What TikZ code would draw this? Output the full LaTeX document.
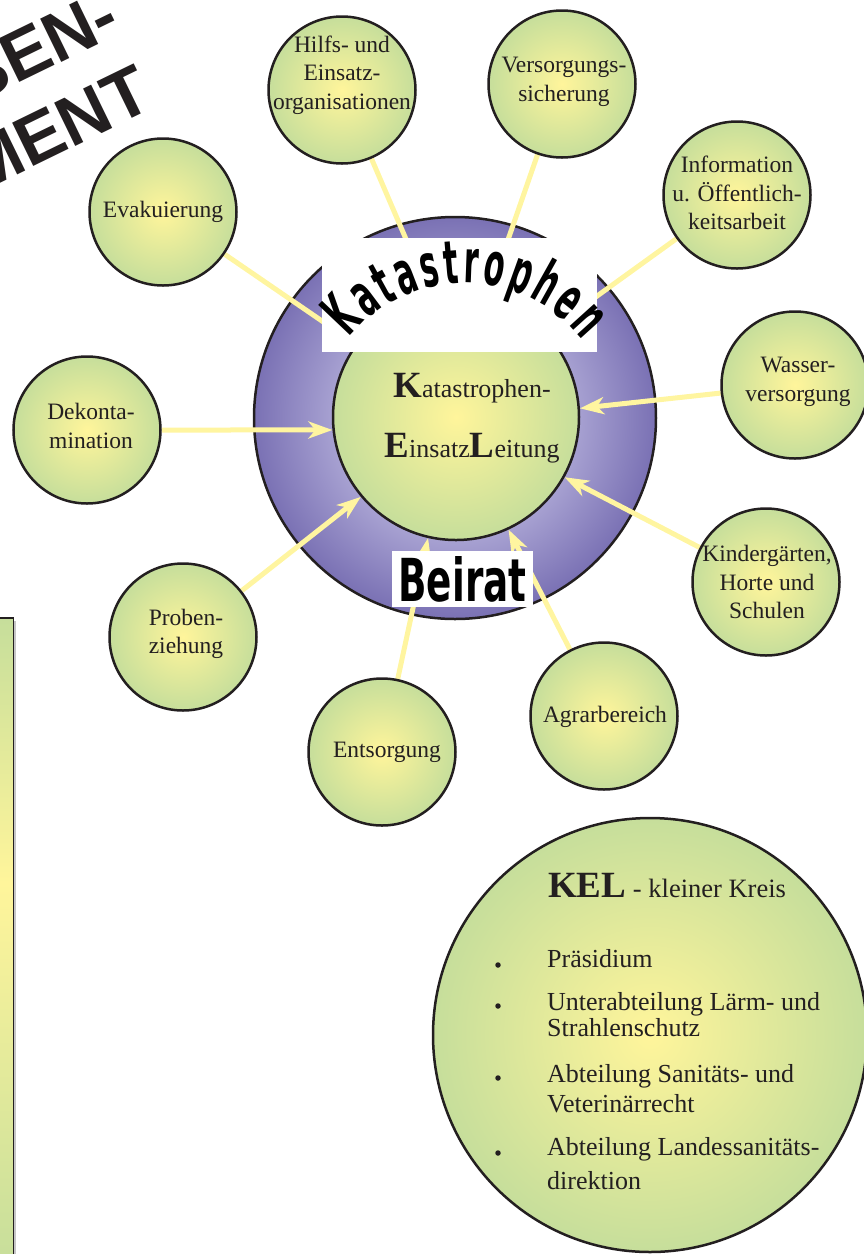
\documentclass[tikz,border=0pt]{standalone}
\usepackage{fontspec}
\usepackage{graphicx}
\setmainfont{Liberation Serif}
\newfontfamily\titlefont{Liberation Sans}
\newfontfamily\kfont{DejaVu Sans}[FakeStretch=0.5]
\newfontfamily\bfont{DejaVu Sans}
\usetikzlibrary{arrows.meta,decorations.text}
\definecolor{cyel}{HTML}{FFF59B}
\definecolor{cgrn}{HTML}{C6DE9B}
\definecolor{rlight}{HTML}{A8A2D2}
\definecolor{rdark}{HTML}{7A71B4}
\definecolor{lyel}{HTML}{FFF5A0}
\definecolor{ink}{HTML}{231F20}
\pgfdeclareradialshading{ringshade}{\pgfpointorigin}{color(0bp)=(rlight); color(15bp)=(rlight); color(25bp)=(rdark); color(50bp)=(rdark)}
\pgfdeclarelayer{bg}\pgfdeclarelayer{mid}\pgfdeclarelayer{fg}
\pgfsetlayers{bg,mid,main,fg}
\newcommand\KELbig[1]{{\fontsize{37}{37}\selectfont\bfseries #1}}
\newcommand\KELsmall[1]{{\fontsize{26}{26}\selectfont #1}}
\tikzset{
  sat/.style={circle, draw=ink, line width=2.5pt, inner color=cyel, outer color=cgrn, minimum size=147pt, inner sep=0pt},
  sattext/.style={align=center, inner sep=0pt, text=ink, font=\fontsize{23.5}{28.5}\selectfont},
  conn/.style={draw=lyel, line width=5pt},
  arr/.style={conn, -{Stealth[length=24pt,width=17pt,inset=7pt]}},
  banner/.style={fill=white, inner sep=0pt},
  keltext/.style={anchor=base west, inner sep=0pt, text=ink, font=\fontsize{26}{30}\selectfont},
  bullet/.style={circle, fill=ink, inner sep=0pt, minimum size=5.5pt},
  titletext/.style={rotate=26, anchor=base east, inner sep=0pt, text=ink, font=\titlefont\bfseries\fontsize{70}{70}\selectfont}
}
\begin{document}
\begin{tikzpicture}[x=1pt,y=-1pt]
\useasboundingbox (0,0) rectangle (864,1254);
\clip (0,0) rectangle (864,1254);

\begin{pgfonlayer}{bg}
\node[circle, draw=ink, line width=2.5pt, minimum size=402pt, shade, shading=ringshade] (ring) at (455,418) {};
\node[circle, draw=ink, line width=2.5pt, inner color=cyel, outer color=cgrn, minimum size=246pt] (kelc) at (456,417) {};
\end{pgfonlayer}

% satellites
\node[sat] (hilfs) at (342,90) {};
\node[sattext] (hilfsT) at (342,75) {Hilfs- und\\Einsatz-\\organisationen};
\node[sat] (versorg) at (562,84) {};
\node[sattext] (versorgT) at (564,82) {Versorgungs-\\sicherung};
\node[sat] (info) at (737,195) {};
\node[sattext] (infoT) at (737,193) {Information\\u. Öffentlich-\\keitsarbeit};
\node[sat] (evak) at (163,212) {};
\node[sattext] (evakT) at (163,212) {Evakuierung};
\node[sat] (wasser) at (795,385) {};
\node[sattext] (wasserT) at (798,382) {Wasser-\\versorgung};
\node[sat] (dekon) at (87,430) {};
\node[sattext] (dekonT) at (91,426) {Dekonta-\\mination};
\node[sat] (kinder) at (766,582) {};
\node[sattext] (kinderT) at (767,582) {Kindergärten,\\Horte und\\Schulen};
\node[sat] (proben) at (183,637) {};
\node[sattext] (probenT) at (186,634) {Proben-\\ziehung};
\node[sat] (entsorg) at (382,752) {};
\node[sattext] (entsorgT) at (387,752) {Entsorgung};
\node[sat] (agrar) at (604,716) {};
\node[sattext] (agrarT) at (605,717) {Agrarbereich};

% connectors
\begin{pgfonlayer}{mid}
\draw[conn] (hilfs) -- (kelc.102);
\draw[conn] (versorg) -- (kelc.75);
\draw[conn] (evak) -- (kelc.144);
\draw[conn] (info) -- (kelc.43);
\draw[arr] (dekon) -- (kelc.186);
\draw[arr] (wasser) -- (kelc.4);
\draw[arr] (kinder) -- (kelc.-29);
\draw[arr] (proben) -- (kelc.220);
\draw[arr] (entsorg) -- (kelc.257);
\draw[arr] (agrar) -- (kelc.-65);
\end{pgfonlayer}

% centre text
\node[anchor=base, inner sep=0pt, text=ink] (k1) at (472,397) {\KELbig{K}\KELsmall{atastrophen-}};
\node[anchor=base, inner sep=0pt, text=ink] (k2) at (472,457) {\KELbig{E}\KELsmall{insatz}\KELbig{L}\KELsmall{eitung}};

% banners
\begin{pgfonlayer}{fg}
\node[banner, minimum width=275pt, minimum height=114pt] (kban) at (459.5,295) {};
\path[decorate, decoration={text along path, text={|\kfont\bfseries\fontsize{60}{60}\selectfont|Katastrophen}, text align=fit to path}]
  (465,432) ++(-141:149) arc[start angle=-141, end angle=-38, radius=149];
\node[banner, minimum width=141pt, minimum height=56pt] (bban) at (462.5,579) {\resizebox{128pt}{45pt}{\bfont\bfseries Beirat}};
\end{pgfonlayer}

% left panel
\fill[gray!45] (-20,621) rectangle (16,1270);
\shade[top color=cgrn, bottom color=cyel] (-20,618) rectangle (13.5,883);
\shade[top color=cyel, bottom color=cgrn] (-20,883) rectangle (13.5,1270);
\draw[ink, line width=1.5pt] (-20,618) rectangle (13.5,1270);

% KEL circle
\node[circle, draw=ink, line width=2.5pt, inner color=cyel, outer color=cgrn, minimum size=434pt] (kelbig) at (650,1035) {};
\node[keltext, font=\fontsize{26.5}{30}\selectfont] (keltitle) at (548,897) {\KELbig{KEL} - kleiner Kreis};
\node[bullet] (b1) at (498,965) {};
\node[keltext] (i1) at (547,967) {Präsidium};
\node[bullet] (b2) at (498,1006) {};
\node[keltext] (i2a) at (547,1010) {Unterabteilung Lärm- und};
\node[keltext] (i2b) at (547,1036) {Strahlenschutz};
\node[bullet] (b3) at (498,1078) {};
\node[keltext] (i3a) at (547,1082) {Abteilung Sanitäts- und};
\node[keltext] (i3b) at (547,1112) {Veterinärrecht};
\node[bullet] (b4) at (498,1153) {};
\node[keltext] (i4a) at (547,1155) {Abteilung Landessanitäts-};
\node[keltext] (i4b) at (547,1189) {direktion};

% title
\node[titletext] (t1) at (124,32) {KRISEN-};
\node[titletext] (t2) at (156,107) {MANAGEMENT};
\end{tikzpicture}
\end{document}
